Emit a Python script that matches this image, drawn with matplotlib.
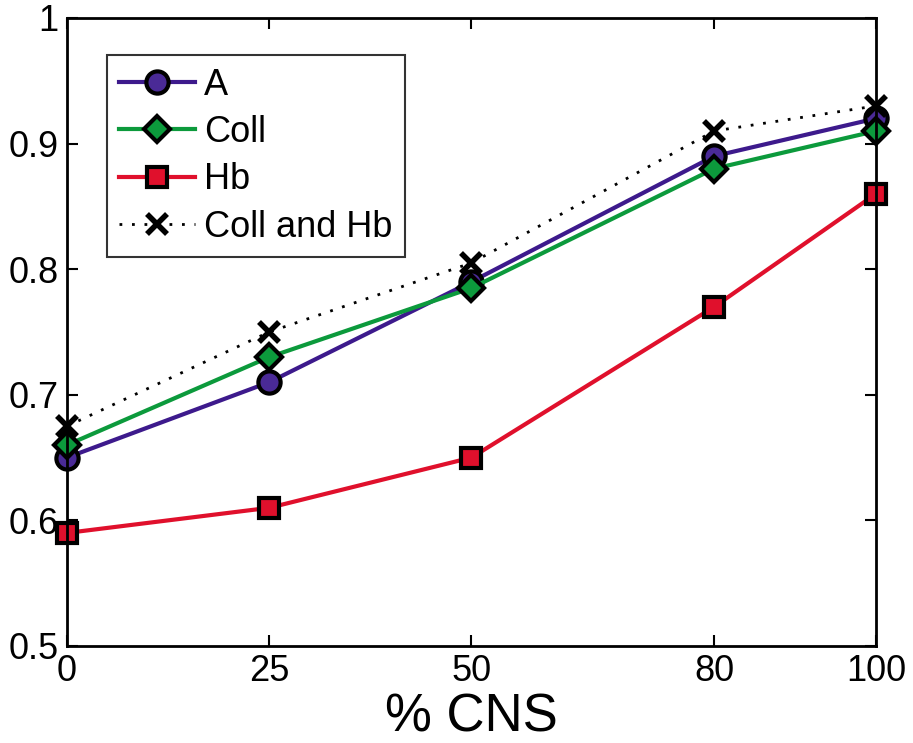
import numpy as np
import matplotlib
matplotlib.use("Agg")
import matplotlib.pyplot as plt
from matplotlib import font_manager

# pick a narrow sans if it is there
names = {f.name for f in font_manager.fontManager.ttflist}
fam = ["Liberation Sans Narrow"] if "Liberation Sans Narrow" in names else ["Liberation Sans"]
plt.rcParams["font.family"] = fam + ["DejaVu Sans"]

cns = [0, 25, 50, 80, 100]
a_vals = [0.65, 0.71, 0.79, 0.89, 0.92]
coll_vals = [0.66, 0.73, 0.785, 0.88, 0.91]
hb_vals = [0.59, 0.61, 0.65, 0.77, 0.86]
collhb_vals = [0.675, 0.75, 0.805, 0.91, 0.93]

fig = plt.figure(figsize=(9.13, 7.43), dpi=100)
ax = fig.add_axes([0.0734, 0.1306, 0.886, 0.8452])

lw = 3.0
ax.plot(cns, a_vals, color="#3d1a8c", lw=lw, marker="o", ms=16,
        mfc="#4a2a96", mec="black", mew=3, label="A", zorder=3, clip_on=False)
ax.plot(cns, coll_vals, color="#0c9a3c", lw=lw, marker="D", ms=13,
        mfc="#0c9a3c", mec="black", mew=3, label="Coll", zorder=4, clip_on=False)
ax.plot(cns, hb_vals, color="#e0102c", lw=lw, marker="s", ms=14,
        mfc="#e0102c", mec="black", mew=3, label="Hb", zorder=3, clip_on=False)
ax.plot(cns, collhb_vals, color="black", lw=2, ls=(0, (1, 3.5)), marker="x", ms=14,
        mec="black", mew=4, label="Coll and Hb", zorder=5, clip_on=False)

ax.set_xlim(0, 100)
ax.set_ylim(0.5, 1.0)
ax.set_xticks(cns)
ax.set_xticklabels([str(c) for c in cns])
ax.set_yticks([0.5, 0.6, 0.7, 0.8, 0.9, 1.0])
ax.set_yticklabels(["0.5", "0.6", "0.7", "0.8", "0.9", "1"])
ax.tick_params(direction="in", length=8, width=1.5, labelsize=26, pad=6,
               top=True, right=True)
for s in ax.spines.values():
    s.set_linewidth(2)
    s.set_zorder(6)

ax.set_xlabel("% CNS", fontsize=38, labelpad=2)

leg = ax.legend(loc="upper left", bbox_to_anchor=(0.049, 0.941), borderaxespad=0,
                fontsize=26, frameon=True, fancybox=False, edgecolor="black",
                handlelength=2.1, handletextpad=0.25, borderpad=0.35,
                labelspacing=0.34, markerscale=1.0)
leg.get_frame().set_linewidth(1.5)
leg.set_zorder(7)

fig.savefig("out.png", dpi=100)
